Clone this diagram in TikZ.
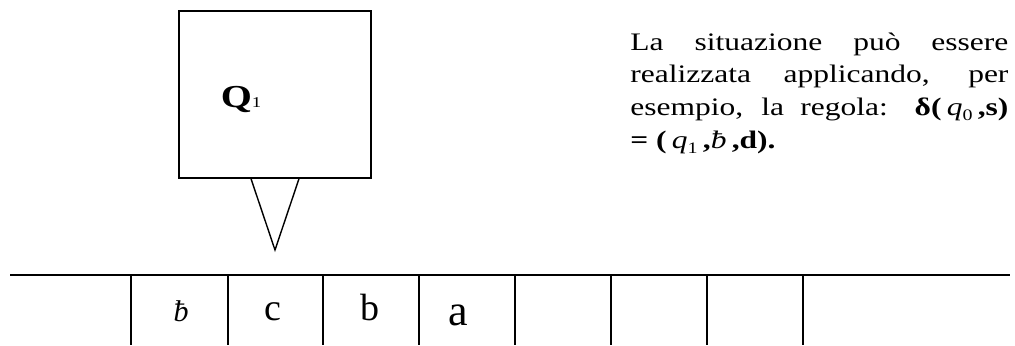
\documentclass[tikz,border=0pt]{standalone}
\usepackage{fontspec}
\setmainfont{Liberation Serif}
\usetikzlibrary{positioning, calc}

\newcommand\qstato[1]{\textit{q}\raisebox{-0.4ex}{\fontsize{8}{8}\selectfont #1}}

\begin{document}
\begin{tikzpicture}[x=0.5pt, y=-0.5pt,
  cella/.style={line width=0.75pt},
  simbolo/.style={anchor=base, inner sep=0pt, font=\fontsize{19}{19}\selectfont}]
  \useasboundingbox (0,0) rectangle (1015,345);
  % testina con lo stato
  \node[draw, line width=0.7pt, minimum width=96pt, minimum height=83.5pt, inner sep=0pt] (testina) at (275,94.5) {};
  \node[anchor=base, inner sep=0pt] (stato) at (241,107) {\scalebox{1.25}[1]{\fontsize{16}{16}\selectfont\textbf{Q}\fontsize{7.5}{8}\selectfont 1}};
  \coordinate (punta) at (275,250);
  \draw[line width=0.7pt] ($(testina.south)+(-24,0)$) -- (punta) -- ($(testina.south)+(24,0)$);
  % nastro
  \draw[cella] (10,275) -- (1010,275);
  \foreach \x in {131,228,323,419,515,611,707,803}
    \draw[cella] (\x,275) -- (\x,345);
  \node[simbolo, font=\fontsize{15}{15}\selectfont\itshape] (vuoto) at (181,321) {ƀ};
  \node[simbolo] (c) at (273,320) {c};
  \node[simbolo] (b) at (370,320) {b};
  \node[simbolo, font=\fontsize{22}{22}\selectfont] (a) at (458,325) {a};
  % spiegazione
  \node[anchor=base west, inner sep=0pt] (testo) at (630,50) {%
    \scalebox{1.25}[1]{\parbox[t]{151.2pt}{\fontsize{12.6}{16.4}\selectfont
    La situazione può essere\linebreak realizzata applicando, per\linebreak
    esempio, la regola: \textbf{δ(}\,\qstato{0}\,\textbf{,s)}\linebreak
    \textbf{= (}\,\qstato{1}\,\textbf{,}\textit{ƀ}\,\textbf{,d).}}}};
\end{tikzpicture}
\end{document}
